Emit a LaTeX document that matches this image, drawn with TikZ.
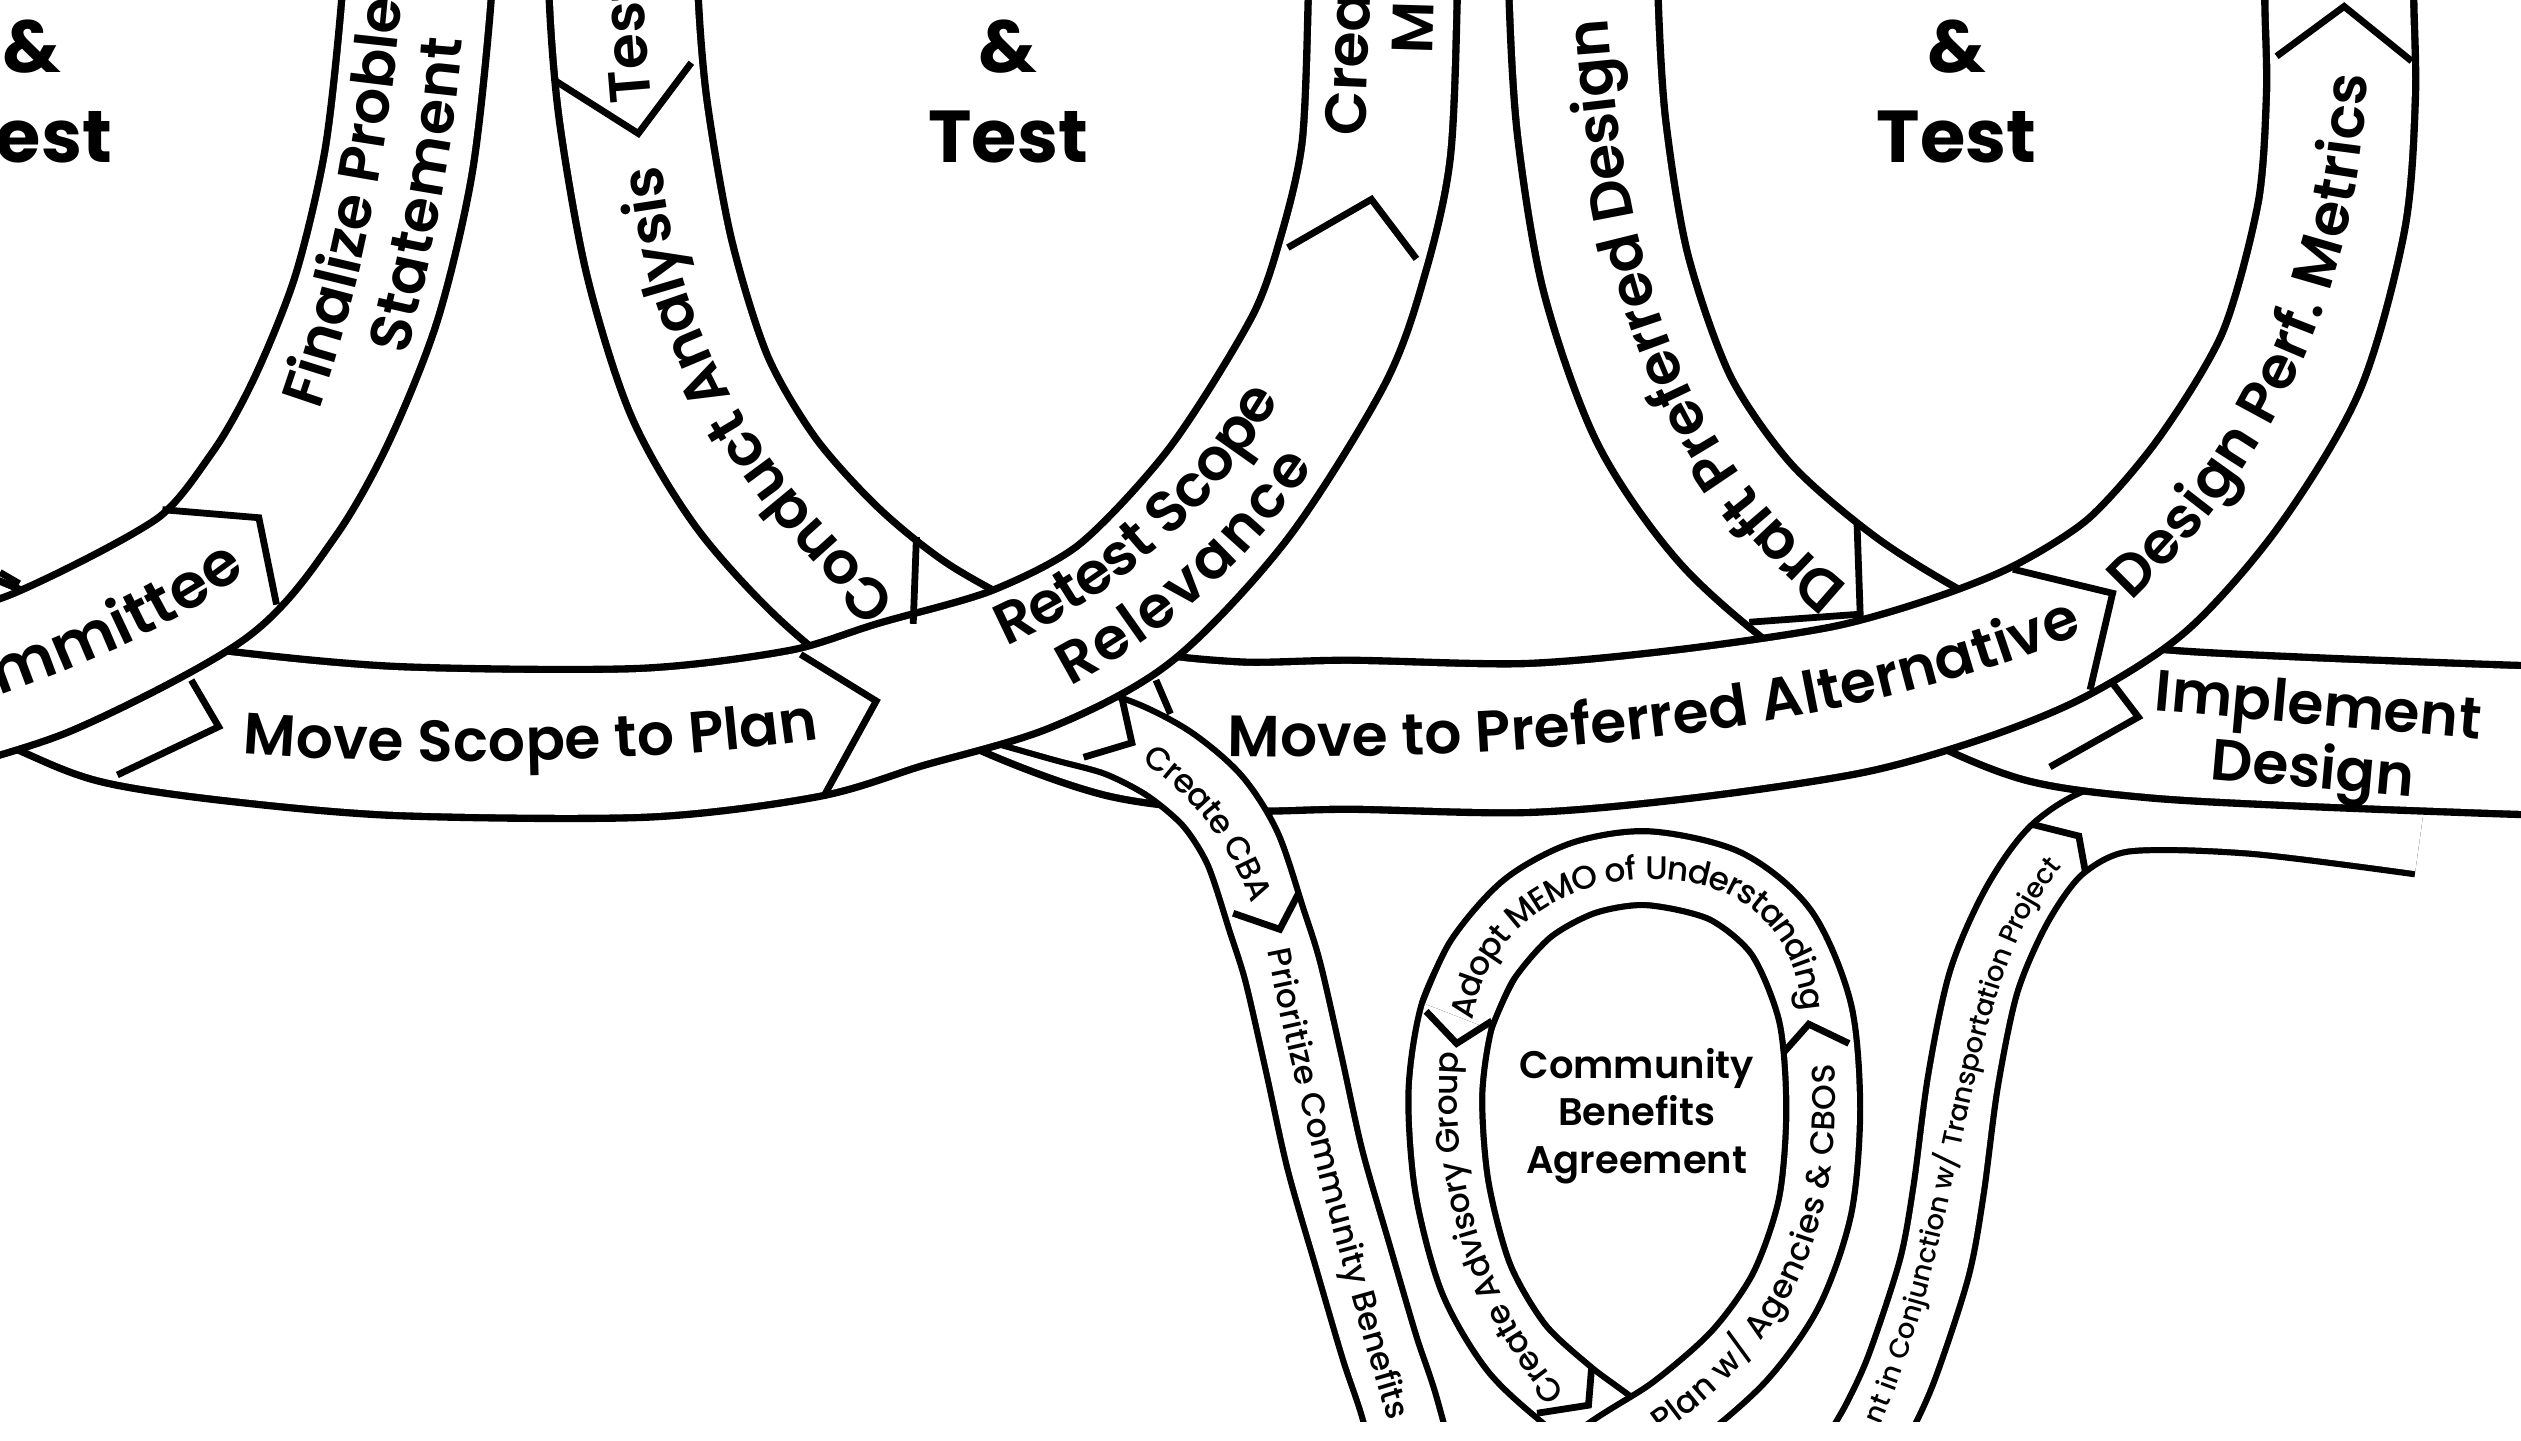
\documentclass[tikz,border=0pt]{standalone}
\usepackage{fontspec}
\setmainfont{Poppins}
\IfFontExistsTF{Poppins Medium}{\newfontfamily\medfont{Poppins Medium}}{\newfontfamily\medfont{Poppins}}
\IfFontExistsTF{Poppins SemiBold}{\newfontfamily\semifont{Poppins SemiBold}}{\newfontfamily\semifont{Poppins}[FakeBold=1]}
\usepackage{tikz}
\usetikzlibrary{decorations.text}
\newcommand{\bandfont}{\semifont\fontsize{10.3}{11.2}\selectfont}
\newcommand{\widebandfont}{\semifont\fontsize{11}{12}\selectfont}
\newcommand{\stripfont}{\medfont\fontsize{5.8}{7}\selectfont}
\newcommand{\tinystripfont}{\medfont\fontsize{4.85}{6}\selectfont}
\newcommand{\titlefont}{\bfseries\fontsize{13}{16}\selectfont}
\newcommand{\cbafont}{\semifont\fontsize{6.8}{8.4}\selectfont}
\tikzstyle{ribbon} = [draw=black, line width=1.3pt, double=white, double distance=0.88cm]
\tikzstyle{thinribbon} = [draw=black, line width=1.1pt, double=white, double distance=0.42cm]
\tikzstyle{notch} = [line width=1.2pt, line join=miter]
\tikzstyle{bandtext} = [decorate, decoration={text along path, text align=center}]
\tikzstyle{titletext} = [align=center, font=\titlefont, inner sep=0pt]

\begin{document}
\begin{tikzpicture}[x=0.01cm, y=-0.01cm]
\useasboundingbox (0,0) rectangle (1568,896);
\begin{scope}
\clip (0,0) rectangle (1568,884);

% Transportation strip
\draw[thinribbon, double distance=0.40cm] plot[smooth] coordinates {(1130,960) (1150,915) (1168,883) (1183,850) (1203,789) (1212,740) (1221,672) (1234,610) (1255,562) (1281,527) (1320,508) (1400,509) (1505,522)};

% Small loop
\draw[thinribbon] plot[smooth] coordinates {(922,597) (906,632) (899,680) (903,738) (918,795) (943,838) (975,868) (1010,895) (1045,935)};
\draw[thinribbon] plot[smooth] coordinates {(950,945) (1000,905) (1042,878) (1082,843) (1111,802) (1129,750) (1134,690) (1129,630) (1108,580) (1073,551) (1025,540) (985,546) (950,565) (922,597) (906,632)};

% Right loop, left side
\draw[ribbon] plot[smooth] coordinates {(985,-60) (985,0) (990,80) (1005,170) (1035,255) (1080,320) (1140,372) (1205,412) (1270,440) (1340,450) (1430,455) (1560,460) (1640,462)};

% Middle loop left side, on to right loop
\draw[ribbon] plot[smooth] coordinates {(388,-60) (388,0) (394,70) (410,160) (435,240) (470,300) (515,350) (565,390) (630,425) (700,450) (770,458) (840,457) (950,459) (1050,450) (1150,435) (1220,415) (1276,392) (1330,357) (1380,300) (1425,225) (1450,135) (1456,60) (1455,0) (1455,-60)};

% CBA strip
\draw[thinribbon, double distance=0.44cm] plot[smooth] coordinates {(600,432) (660,449) (696,459) (727,475) (754,498) (773,528) (788,573) (798,605) (811,662) (824,721) (841,780) (858,838) (870,874) (885,930)};

% Middle loop, right side
\draw[ribbon] plot[smooth] coordinates {(-40,395) (25,422) (73,441) (145,452) (249,461) (400,462) (500,450) (560,432) (635,410) (700,375) (764,307) (820,218) (842,157) (856,93) (860,0) (860,-60)};

% Left loop, right side
\draw[ribbon] plot[smooth] coordinates {(-60,438) (26,412) (125,360) (170,308) (200,255) (228,185) (248,100) (259,0) (261,-60)};

% Arrow notches
\draw[notch] (0,356) -- (12,363);
\draw[notch] (101,317) -- (161,322) -- (172,376);
\draw[notch] (119,423) -- (136,452) -- (73,482);
\draw[notch] (498,407) -- (545,436) -- (512,496);
\draw[notch] (570,334) -- (568,388);
\draw[notch] (345,50) -- (397,83) -- (430,39);
\draw[notch] (801,154) -- (853,124) -- (881,161);
\draw[notch] (719,423) -- (728,444);
\draw[notch] (698,435) -- (704,462) -- (674,471);
\draw[notch] (767,568) -- (796,578) -- (808,555);
\draw[notch] (1252,354) -- (1314,369) -- (1300,429);
\draw[notch] (1416,35) -- (1458,4) -- (1500,38);
\draw[notch] (1088,387) -- (1157,382) -- (1155,325);
\draw[notch] (1314,425) -- (1330,446) -- (1275,477);
\draw[notch] (1265,513) -- (1293,520) -- (1297,542);
\draw[notch] (887,629) -- (906,649) -- (928,635);
\draw[notch] (1109,655) -- (1125,637) -- (1150,649);
\draw[notch] (956,879) -- (988,874) -- (990,850);

% Titles
\node[titletext] (lefttitle) at (20,57) {\&\\Test};
\node[titletext] (midtitle) at (627,57) {\&\\Test};
\node[titletext] (righttitle) at (1217,57) {\&\\Test};

% Band labels
\path[bandtext, decoration={text={|\bandfont|Move Scope to Plan}, raise=-0.12cm}] (130,455) .. controls (250,466) and (420,464) .. (530,444);
\path[bandtext, decoration={text={|\bandfont|Retest Scope}, raise=0.08cm}] (580,426) .. controls (680,400) and (780,320) .. (826,205);
\path[bandtext, decoration={text={|\bandfont|Relevance}, raise=-0.32cm}] (580,426) .. controls (680,400) and (780,320) .. (826,205);
\path[bandtext, decoration={text align=left, text={|\bandfont|Finalize Problem}, raise=0.08cm}] (206,258) .. controls (230,190) and (256,80) .. (262,-60);
\path[bandtext, decoration={text={|\bandfont|Statement}, raise=-0.32cm}] (222,215) .. controls (238,150) and (252,80) .. (256,20);
\path[bandtext, decoration={text align=right, text={|\widebandfont|Committee}, raise=-0.13cm}] (-200,480) .. controls (-60,440) and (80,400) .. (146,345);
\path[bandtext, decoration={text={|\bandfont|Conduct Analysis}, raise=-0.12cm}] (566,396) .. controls (480,320) and (405,230) .. (398,82);
\path[bandtext, decoration={text align=left, text={|\bandfont|Test}, raise=-0.12cm}] (393,64) .. controls (390,30) and (388,0) .. (387,-80);
\path[bandtext, decoration={text align=left, text={|\bandfont|Create}, raise=0.08cm}] (857,85) .. controls (859,40) and (861,0) .. (861,-80);
\path[bandtext, decoration={text align=left, text={|\bandfont|M}, raise=-0.32cm}] (859,33) .. controls (860,0) and (861,-30) .. (861,-80);
\path[bandtext, decoration={text={|\bandfont|Move to Preferred Alternative}, raise=-0.12cm}] (754,458) .. controls (950,462) and (1150,445) .. (1300,379);
\path[bandtext, decoration={text={|\bandfont|Design Perf. Metrics}, raise=-0.12cm}] (1310,372) .. controls (1400,290) and (1457,180) .. (1461,36);
\path[bandtext, decoration={text align=left, text={|\bandfont|Draft Preferred Design}, raise=-0.12cm}] (1142,374) .. controls (1040,290) and (990,180) .. (985,-60);
\node[rotate=-5, align=center, font=\bandfont, inner sep=0pt] (implement) at (1440,462) {Implement\\Design};

% Strip labels
\path[bandtext, decoration={text={|\stripfont|Create CBA}, raise=-0.07cm}] (700,460) .. controls (740,480) and (775,520) .. (790,575);
\path[bandtext, decoration={text align=left, text={|\stripfont|Prioritize Community Benefits}, raise=-0.07cm}] (795,590) .. controls (815,690) and (850,820) .. (885,930);
\path[bandtext, decoration={text={|\stripfont|Create Advisory Group}, raise=-0.07cm}] (968,870) .. controls (915,810) and (895,730) .. (900,655);
\path[bandtext, decoration={text={|\stripfont|Adopt MEMO of Understanding}, raise=-0.07cm}] (908,640) .. controls (915,580) and (960,542) .. (1025,540) .. controls (1090,538) and (1128,580) .. (1128,635);
\path[bandtext, decoration={text align=right, text={|\stripfont|n Plan w/ Agencies {\&} CBOS}, raise=-0.07cm}] (960,925) .. controls (1065,875) and (1142,810) .. (1134,662);
\path[bandtext, decoration={text align=right, text={|\tinystripfont|nt in Conjunction w/ Transportation Project}, raise=-0.06cm}] (1130,950) .. controls (1225,800) and (1205,620) .. (1278,535);
\node[align=center, font=\cbafont, inner sep=0pt] (cba) at (1018,694) {Community\\Benefits\\Agreement};
\end{scope}
\end{tikzpicture}
\end{document}
